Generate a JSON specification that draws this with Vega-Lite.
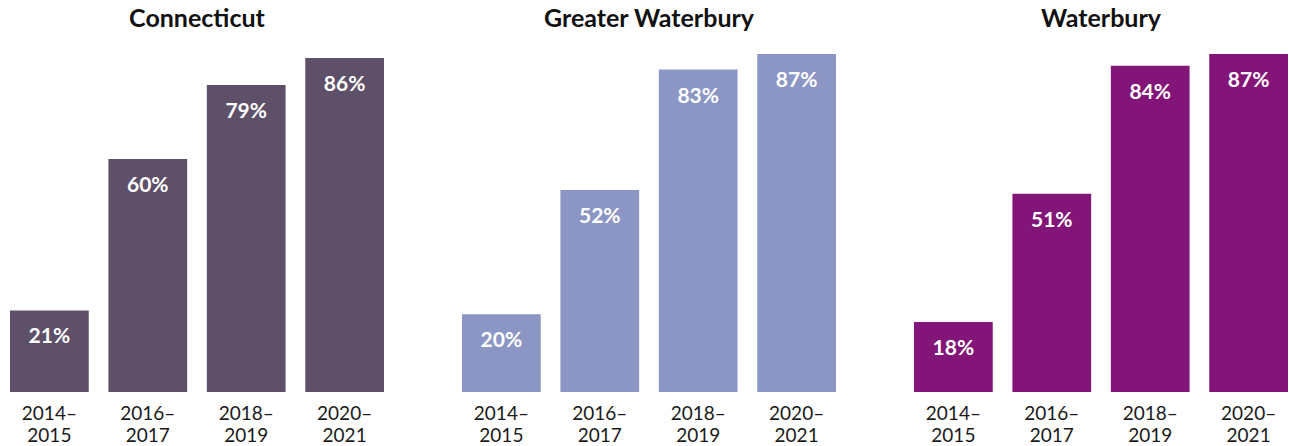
{
  "$schema": "https://vega.github.io/schema/vega-lite/v6.json",
  "padding": {"left": 10, "top": 7, "right": 0, "bottom": 0},
  "autosize": {"type": "pad"},
  "background": "white",
  "config": {
    "view": {"stroke": null},
    "font": "Lato",
    "concat": {"spacing": 78},
    "title": {"fontSize": 25, "fontWeight": "bold", "color": "#111111", "baseline": "alphabetic", "offset": 22, "anchor": "middle"},
    "axisX": {
      "title": null,
      "domain": false,
      "ticks": false,
      "labelAngle": 0,
      "labelFontSize": 19,
      "labelColor": "#1a1a1a",
      "labelPadding": 12,
      "labelLineHeight": 22
    }
  },
  "datasets": {
    "rows": [
      {"region": "Connecticut", "period": "2014–2015", "value": 0.21},
      {"region": "Connecticut", "period": "2016–2017", "value": 0.60},
      {"region": "Connecticut", "period": "2018–2019", "value": 0.79},
      {"region": "Connecticut", "period": "2020–2021", "value": 0.86},
      {"region": "Greater Waterbury", "period": "2014–2015", "value": 0.20},
      {"region": "Greater Waterbury", "period": "2016–2017", "value": 0.52},
      {"region": "Greater Waterbury", "period": "2018–2019", "value": 0.83},
      {"region": "Greater Waterbury", "period": "2020–2021", "value": 0.87},
      {"region": "Waterbury", "period": "2014–2015", "value": 0.18},
      {"region": "Waterbury", "period": "2016–2017", "value": 0.51},
      {"region": "Waterbury", "period": "2018–2019", "value": 0.84},
      {"region": "Waterbury", "period": "2020–2021", "value": 0.87}
    ]
  },
  "data": {"name": "rows"},
  "hconcat": [
    {
      "title": "Connecticut",
      "width": 374,
      "height": 338,
      "transform": [{"filter": "datum.region === 'Connecticut'"}],
      "encoding": {
        "x": {"field": "period", "type": "ordinal", "scale": {"paddingInner": 0.2, "paddingOuter": 0}, "axis": {"labelExpr": "[slice(datum.label, 0, 5), slice(datum.label, 5)]"}},
        "y": {"field": "value", "type": "quantitative", "scale": {"domain": [0, 0.87], "nice": false}, "axis": null}
      },
      "layer": [
        {"mark": {"type": "bar", "color": "#5d5068"}},
        {"mark": {"type": "text", "baseline": "alphabetic", "dy": 33, "fontSize": 21, "fontWeight": "bold", "color": "white"},
         "encoding": {"text": {"field": "value", "type": "quantitative", "format": ".0%"}}}
      ]
    },
    {
      "title": "Greater Waterbury",
      "width": 374,
      "height": 338,
      "transform": [{"filter": "datum.region === 'Greater Waterbury'"}],
      "encoding": {
        "x": {"field": "period", "type": "ordinal", "scale": {"paddingInner": 0.2, "paddingOuter": 0}, "axis": {"labelExpr": "[slice(datum.label, 0, 5), slice(datum.label, 5)]"}},
        "y": {"field": "value", "type": "quantitative", "scale": {"domain": [0, 0.87], "nice": false}, "axis": null}
      },
      "layer": [
        {"mark": {"type": "bar", "color": "#8b96c5"}},
        {"mark": {"type": "text", "baseline": "alphabetic", "dy": 33, "fontSize": 21, "fontWeight": "bold", "color": "white"},
         "encoding": {"text": {"field": "value", "type": "quantitative", "format": ".0%"}}}
      ]
    },
    {
      "title": "Waterbury",
      "width": 374,
      "height": 338,
      "transform": [{"filter": "datum.region === 'Waterbury'"}],
      "encoding": {
        "x": {"field": "period", "type": "ordinal", "scale": {"paddingInner": 0.2, "paddingOuter": 0}, "axis": {"labelExpr": "[slice(datum.label, 0, 5), slice(datum.label, 5)]"}},
        "y": {"field": "value", "type": "quantitative", "scale": {"domain": [0, 0.87], "nice": false}, "axis": null}
      },
      "layer": [
        {"mark": {"type": "bar", "color": "#831478"}},
        {"mark": {"type": "text", "baseline": "alphabetic", "dy": 33, "fontSize": 21, "fontWeight": "bold", "color": "white"},
         "encoding": {"text": {"field": "value", "type": "quantitative", "format": ".0%"}}}
      ]
    }
  ]
}
